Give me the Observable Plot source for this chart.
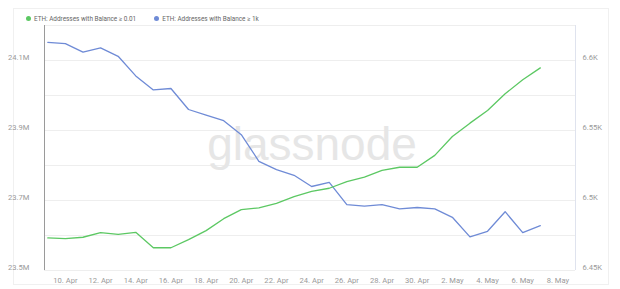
<!DOCTYPE html>
<html>
<head>
<meta charset="utf-8">
<script src="https://cdn.jsdelivr.net/npm/d3@7"></script>
<script src="https://cdn.jsdelivr.net/npm/@observablehq/plot@0.6"></script>
<style>
  html, body { margin: 0; padding: 0; background: #fff; }
  #wrap { position: relative; width: 620px; height: 289px; overflow: hidden; font-family: Roboto, "Liberation Sans", sans-serif; }
  #card { position: absolute; left: 13px; top: 8px; width: 596px; height: 277px; border: 1px solid #f0f0f0; box-sizing: border-box; }
  #legend { position: absolute; left: 26px; top: 15px; font-size: 6.4px; color: #666; display: flex; gap: 18px; white-space: nowrap; }
  #legend span.dot { display: inline-block; width: 5px; height: 5px; border-radius: 50%; margin-right: 3px; vertical-align: 0px; }
  #chart { position: absolute; left: 0; top: 0; }
</style>
</head>
<body>
<div id="wrap">
  <div id="card"></div>
  <div id="chart"></div>
  <div id="legend"></div>
</div>
<script>
const dates = ["2022-04-09","2022-04-10","2022-04-11","2022-04-12","2022-04-13","2022-04-14","2022-04-15","2022-04-16","2022-04-17","2022-04-18","2022-04-19","2022-04-20","2022-04-21","2022-04-22","2022-04-23","2022-04-24","2022-04-25","2022-04-26","2022-04-27","2022-04-28","2022-04-29","2022-04-30","2022-05-01","2022-05-02","2022-05-03","2022-05-04","2022-05-05","2022-05-06","2022-05-07"];
// ETH: Addresses with Balance >= 0.01 (millions, left axis)
const small = [23.593,23.591,23.595,23.608,23.603,23.609,23.565,23.565,23.588,23.614,23.648,23.674,23.679,23.692,23.711,23.726,23.735,23.754,23.767,23.786,23.795,23.795,23.829,23.883,23.921,23.957,24.005,24.045,24.079];
// ETH: Addresses with Balance >= 1k (thousands, right axis)
const large = [6.613,6.612,6.606,6.609,6.603,6.589,6.579,6.580,6.565,6.561,6.557,6.547,6.528,6.522,6.518,6.510,6.513,6.497,6.496,6.497,6.494,6.495,6.494,6.488,6.474,6.478,6.492,6.477,6.482];

const seriesNames = ["ETH: Addresses with Balance \u2265 0.01", "ETH: Addresses with Balance \u2265 1k"];
const seriesColors = ["#5cc863", "#6f8bd6"];
const leftTicks = [23.5, 23.7, 23.9, 24.1];
const rightTicks = [6.45, 6.5, 6.55, 6.6];
const gridTicks = [23.5, 23.6, 23.7, 23.8, 23.9, 24.0, 24.1, 24.2];
const xTicks = ["2022-04-10","2022-04-12","2022-04-14","2022-04-16","2022-04-18","2022-04-20","2022-04-22","2022-04-24","2022-04-26","2022-04-28","2022-04-30","2022-05-02","2022-05-04","2022-05-06","2022-05-08"];

const leftMin = 23.5, rightMin = 6.45, ratio = 4; // 0.1M on left == 0.025K on right
const toLeft = k => leftMin + (k - rightMin) * ratio;
const toRight = m => rightMin + (m - leftMin) / ratio;

const parse = s => new Date(s + "T00:00:00Z");
const greenData = dates.map((d, i) => ({date: parse(d), v: small[i]}));
const blueData = dates.map((d, i) => ({date: parse(d), v: toLeft(large[i])}));

const fmtDate = d3.utcFormat("%-d. %b");
const xDomain = [new Date("2022-04-08T19:30:00Z"), new Date("2022-05-09T00:00:00Z")];

const chart = Plot.plot({
  width: 620,
  height: 289,
  marginLeft: 44,
  marginRight: 45,
  marginTop: 25,
  marginBottom: 19,
  style: {fontFamily: "Roboto, 'Liberation Sans', sans-serif", fontSize: "7.6px", color: "#999", background: "transparent"},
  x: {type: "utc", domain: xDomain},
  y: {domain: [23.5, 24.2]},
  marks: [
    Plot.gridY(gridTicks, {stroke: "#eeeeee", strokeOpacity: 1}),
    Plot.text(["glassnode"], {frameAnchor: "middle", dx: 2, dy: -3, fontSize: 46, fill: "#e6e6e6", fontFamily: "'Liberation Sans', Arial, sans-serif"}),
    Plot.ruleX([xDomain[0]], {stroke: "#9a9a9a", strokeWidth: 1}),
    Plot.ruleX([xDomain[1]], {stroke: "#dfe3ee", strokeWidth: 1}),
    Plot.axisY({ticks: leftTicks, tickFormat: d => d.toFixed(1) + "M", tickSize: 0, tickPadding: 15, dy: -3, label: null, fill: "#9a9a9a"}),
    Plot.axisY({anchor: "right", ticks: leftTicks, tickFormat: d => {const r = toRight(d); return (Math.round(r*100)/100) + "K";}, tickSize: 0, tickPadding: 7, dy: -3, textAnchor: "start", label: null, fill: "#9a9a9a"}),
    Plot.axisX({ticks: xTicks.map(parse), tickFormat: fmtDate, tickSize: 0, tickPadding: 7, label: null, fill: "#9a9a9a"}),
    Plot.line(blueData, {x: "date", y: "v", stroke: seriesColors[1], strokeWidth: 1.3}),
    Plot.line(greenData, {x: "date", y: "v", stroke: seriesColors[0], strokeWidth: 1.3})
  ]
});
document.getElementById("chart").appendChild(chart);

const legend = document.getElementById("legend");
seriesNames.forEach((name, i) => {
  const item = document.createElement("div");
  item.innerHTML = `<span class="dot" style="background:${seriesColors[i]}"></span>${name}`;
  legend.appendChild(item);
});
</script>
</body>
</html>
